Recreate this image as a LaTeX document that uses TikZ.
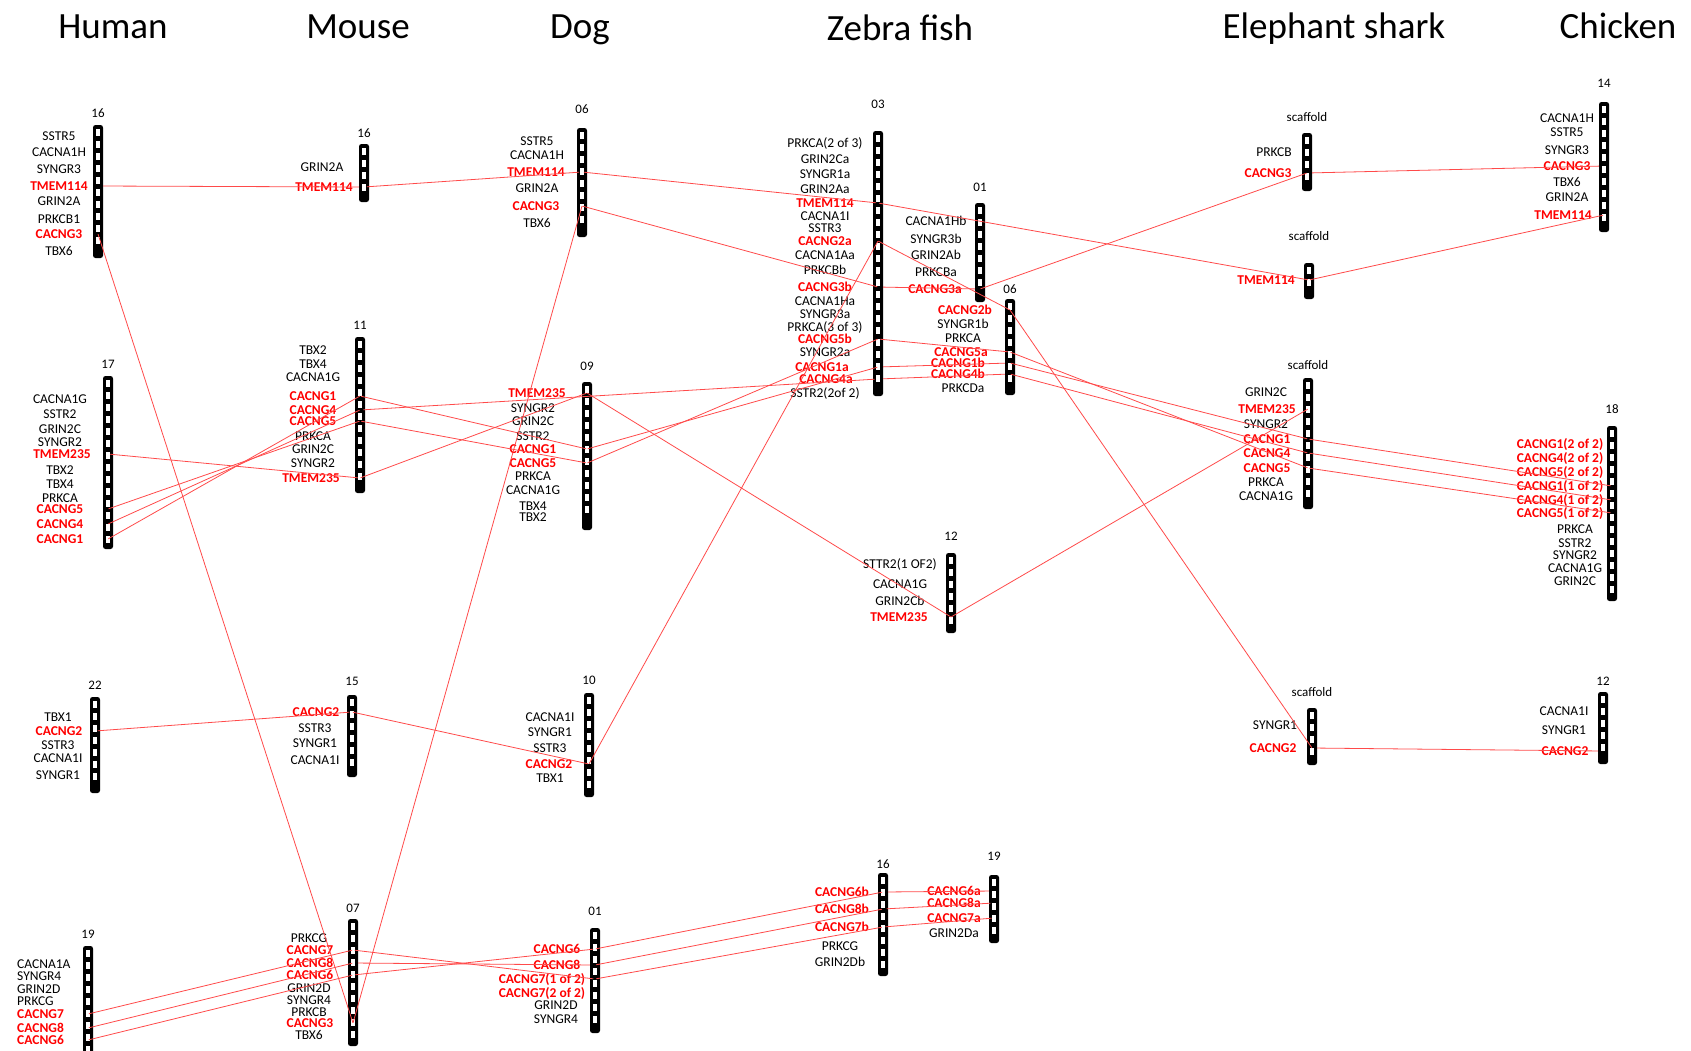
\documentclass[tikz,border=0pt]{standalone}
\usepackage{fontspec}
\setmainfont{Carlito}
\definecolor{HitRed}{HTML}{FF0000}
\definecolor{LinkRed}{HTML}{FF4A4A}

\tikzset{
  species/.style={font=\fontsize{37}{42}\selectfont, anchor=base},
  gene/.style={font=\fontsize{13.5}{15}\selectfont, inner sep=0pt, text height=9pt, text depth=0pt},
  hit/.style={gene, font=\fontsize{13.5}{15}\selectfont\bfseries, text=HitRed},
  chrnum/.style={font=\fontsize{13}{15}\selectfont, inner sep=0pt, text height=9pt, text depth=0pt},
  locus/.style={inner sep=0pt, minimum width=10pt, minimum height=0pt},
  link/.style={LinkRed, line width=0.8pt}
}

% chromosome bar: name, x, top, bottom, label y, label
\newcommand{\chromo}[6]{%
  \fill[rounded corners=2.5pt] (#2-5,#3) rectangle (#2+5,#4);
  \pgfmathtruncatemacro{\nwin}{(#4-#3-5)/12}
  \foreach \k in {1,...,\nwin}
    \fill[white] (#2-2,#3+12*\k-8.5) rectangle (#2+2,#3+12*\k-1.5);
  \node[chrnum] (#2) at (#2,#5) {#6};
}
% black gene labels: name, label x, list of y/text
\newcommand{\genelist}[4][]{%
  \foreach \y/\g [count=\i] in {#4}
    \node[gene,#1] (#2-\i) at (#3,\y) {\g};
}
% red gene: name, label x, bar x, y, text
\newcommand{\redgene}[6][]{%
  \node[hit,#1] (#2-t) at (#3,#5) {#6};
  \node[locus] (#2) at (#4,#5) {};
}

\begin{document}
\begin{tikzpicture}[x=1pt, y=-1pt]
  \useasboundingbox (0,0) rectangle (1691,1050);

  % --- SPECIES ---
  \node[species] (human)   at (113,38)  {Human};
  \node[species] (mouse)   at (358,38)  {Mouse};
  \node[species] (dog)     at (580,38)  {Dog};
  \node[species] (zebra)   at (900,40)  {Zebra fish};
  \node[species] (shark)   at (1334,38) {Elephant shark};
  \node[species] (chicken) at (1618,38) {Chicken};

  % --- HUMAN ---
  \chromo{hs16}{98}{125}{258}{113}{16}
  \genelist{hs16}{59}{136/SSTR5, 152/CACNA1H, 169/SYNGR3, 201/GRIN2A, 219/PRKCB1, 251/TBX6}
  \redgene{hs16-TMEM114}{59}{98}{186}{TMEM114}
  \redgene{hs16-CACNG3}{59}{98}{234}{CACNG3}

  \chromo{hs17}{108}{376}{549}{364}{17}
  \genelist{hs17}{60}{399/CACNA1G, 414/SSTR2, 429/GRIN2C, 442/SYNGR2, 470/TBX2, 484/TBX4, 498/PRKCA}
  \redgene{hs17-TMEM235}{62}{108}{454}{TMEM235}
  \redgene{hs17-CACNG5}{60}{108}{509}{CACNG5}
  \redgene{hs17-CACNG4}{60}{108}{524}{CACNG4}
  \redgene{hs17-CACNG1}{60}{108}{539}{CACNG1}

  \chromo{hs22}{95}{697}{793}{685}{22}
  \genelist{hs22}{58}{717/TBX1, 745/SSTR3, 758/CACNA1I, 775/SYNGR1}
  \redgene{hs22-CACNG2}{59}{95}{731}{CACNG2}

  \chromo{hs19}{88}{946}{1060}{934}{19}
  \genelist[anchor=west]{hs19}{17}{964/CACNA1A, 976/SYNGR4, 989/GRIN2D, 1001/PRKCG}
  \redgene[anchor=west]{hs19-CACNG7}{17}{88}{1014}{CACNG7}
  \redgene[anchor=west]{hs19-CACNG8}{17}{88}{1028}{CACNG8}
  \redgene[anchor=west]{hs19-CACNG6}{17}{88}{1040}{CACNG6}

  % --- MOUSE ---
  \chromo{mm16}{364}{144}{202}{133}{16}
  \genelist{mm16}{322}{167/GRIN2A}
  \redgene{mm16-TMEM114}{324}{364}{187}{TMEM114}

  \chromo{mm11}{360}{337}{493}{325}{11}
  \genelist{mm11}{313}{350/TBX2, 364/TBX4, 377/CACNA1G, 436/PRKCA, 449/GRIN2C, 463/SYNGR2}
  \redgene{mm11-CACNG1}{313}{360}{396}{CACNG1}
  \redgene{mm11-CACNG4}{313}{360}{410}{CACNG4}
  \redgene{mm11-CACNG5}{313}{360}{421}{CACNG5}
  \redgene{mm11-TMEM235}{311}{360}{478}{TMEM235}

  \chromo{mm15}{352}{695}{777}{681}{15}
  \genelist{mm15}{315}{728/SSTR3, 743/SYNGR1, 760/CACNA1I}
  \redgene{mm15-CACNG2}{316}{352}{712}{CACNG2}

  \chromo{mm07}{353}{919}{1046}{908}{07}
  \genelist{mm07}{309}{938/PRKCG, 988/GRIN2D, 1000/SYNGR4, 1012/PRKCB, 1035/TBX6}
  \redgene{mm07-CACNG7}{310}{353}{950}{CACNG7}
  \redgene{mm07-CACNG8}{310}{353}{963}{CACNG8}
  \redgene{mm07-CACNG6}{310}{353}{975}{CACNG6}
  \redgene{mm07-CACNG3}{310}{353}{1023}{CACNG3}

  % --- DOG ---
  \chromo{cf06}{582}{128}{237}{109}{06}
  \genelist{cf06}{537}{141/SSTR5, 155/CACNA1H, 188/GRIN2A, 223/TBX6}
  \redgene{cf06-TMEM114}{536}{582}{172}{TMEM114}
  \redgene{cf06-CACNG3}{536}{582}{206}{CACNG3}

  \chromo{cf09}{587}{382}{530}{366}{09}
  \genelist{cf09}{533}{408/SYNGR2, 421/GRIN2C, 436/SSTR2, 476/PRKCA, 490/CACNA1G, 506/TBX4, 517/TBX2}
  \redgene{cf09-TMEM235}{537}{587}{393}{TMEM235}
  \redgene{cf09-CACNG1}{533}{587}{449}{CACNG1}
  \redgene{cf09-CACNG5}{533}{587}{463}{CACNG5}

  \chromo{cf10}{589}{693}{797}{680}{10}
  \genelist{cf10}{550}{717/CACNA1I, 732/SYNGR1, 748/SSTR3, 778/TBX1}
  \redgene{cf10-CACNG2}{549}{589}{764}{CACNG2}

  \chromo{cf01}{595}{928}{1033}{911}{01}
  \genelist{cf01}{556}{1005/GRIN2D, 1019/SYNGR4}
  \redgene{cf01-CACNG6}{557}{595}{949}{CACNG6}
  \redgene{cf01-CACNG8}{557}{595}{965}{CACNG8}
  \redgene{cf01-CACNG7-1}{542}{595}{979}{CACNG7(1 of 2)}
  \redgene{cf01-CACNG7-2}{542}{595}{993}{CACNG7(2 of 2)}

  % --- ZEBRA FISH ---
  \chromo{dr03}{878}{131}{396}{104}{03}
  \genelist{dr03}{825}{143/PRKCA(2 of 3), 159/GRIN2Ca, 174/SYNGR1a, 189/GRIN2Aa, 216/CACNA1I, 228/SSTR3, 255/CACNA1Aa, 270/PRKCBb, 301/CACNA1Ha, 314/SYNGR3a, 327/PRKCA(3 of 3), 352/SYNGR2a, 393/SSTR2(2of 2)}
  \redgene{dr03-TMEM114}{825}{878}{203}{TMEM114}
  \redgene{dr03-CACNG2a}{825}{878}{241}{CACNG2a}
  \redgene{dr03-CACNG3b}{825}{878}{287}{CACNG3b}
  \redgene{dr03-CACNG5b}{825}{878}{339}{CACNG5b}
  \redgene{dr03-CACNG1a}{822}{878}{367}{CACNG1a}
  \redgene{dr03-CACNG4a}{826}{878}{379}{CACNG4a}

  \chromo{dr01}{980}{203}{302}{187}{01}
  \genelist{dr01}{936}{221/CACNA1Hb, 239/SYNGR3b, 255/GRIN2Ab, 272/PRKCBa}
  \redgene{dr01-CACNG3a}{935}{980}{289}{CACNG3a}

  \chromo{dr06}{1010}{299}{395}{289}{06}
  \genelist{dr06}{963}{324/SYNGR1b, 338/PRKCA, 388/PRKCDa}
  \redgene{dr06-CACNG2b}{965}{1010}{310}{CACNG2b}
  \redgene{dr06-CACNG5a}{961}{1010}{352}{CACNG5a}
  \redgene{dr06-CACNG1b}{958}{1010}{363}{CACNG1b}
  \redgene{dr06-CACNG4b}{958}{1010}{374}{CACNG4b}

  \chromo{dr12}{951}{553}{633}{536}{12}
  \genelist{dr12}{900}{564/STTR2(1 OF2), 584/CACNA1G, 601/GRIN2Cb}
  \redgene{dr12-TMEM235}{899}{951}{617}{TMEM235}

  \chromo{dr16}{883}{873}{976}{864}{16}
  \genelist{dr16}{840}{946/PRKCG, 962/GRIN2Db}
  \redgene{dr16-CACNG6b}{842}{883}{892}{CACNG6b}
  \redgene{dr16-CACNG8b}{842}{883}{909}{CACNG8b}
  \redgene{dr16-CACNG7b}{842}{883}{927}{CACNG7b}

  \chromo{dr19}{994}{875}{943}{856}{19}
  \genelist{dr19}{954}{933/GRIN2Da}
  \redgene{dr19-CACNG6a}{954}{994}{891}{CACNG6a}
  \redgene{dr19-CACNG8a}{954}{994}{903}{CACNG8a}
  \redgene{dr19-CACNG7a}{954}{994}{918}{CACNG7a}

  % --- ELEPHANT SHARK ---
  \chromo{cm1}{1307}{133}{191}{117}{scaffold}
  \genelist{cm1}{1274}{152/PRKCB}
  \redgene{cm1-CACNG3}{1268}{1307}{173}{CACNG3}

  \chromo{cm2}{1309}{263}{299}{236}{scaffold}
  \redgene{cm2-TMEM114}{1266}{1309}{280}{TMEM114}

  \chromo{cm3}{1308}{378}{509}{365}{scaffold}
  \genelist{cm3}{1266}{392/GRIN2C, 424/SYNGR2, 482/PRKCA, 496/CACNA1G}
  \redgene{cm3-TMEM235}{1267}{1308}{409}{TMEM235}
  \redgene{cm3-CACNG1}{1267}{1308}{439}{CACNG1}
  \redgene{cm3-CACNG4}{1267}{1308}{453}{CACNG4}
  \redgene{cm3-CACNG5}{1267}{1308}{468}{CACNG5}

  \chromo{cm4}{1312}{708}{765}{692}{scaffold}
  \genelist{cm4}{1275}{725/SYNGR1}
  \redgene{cm4-CACNG2}{1273}{1312}{748}{CACNG2}

  % --- CHICKEN ---
  \chromo{gg14}{1604}{102}{232}{83}{14}
  \genelist{gg14}{1567}{118/CACNA1H, 132/SSTR5, 150/SYNGR3, 182/TBX6, 197/GRIN2A}
  \redgene{gg14-CACNG3}{1567}{1604}{166}{CACNG3}
  \redgene{gg14-TMEM114}{1563}{1604}{215}{TMEM114}

  \chromo{gg18}{1612}{426}{601}{409}{18}
  \genelist{gg18}{1575}{529/PRKCA, 543/SSTR2, 555/SYNGR2, 568/CACNA1G, 581/GRIN2C}
  \redgene{gg18-CACNG1-2}{1560}{1612}{444}{CACNG1(2 of 2)}
  \redgene{gg18-CACNG4-2}{1560}{1612}{458}{CACNG4(2 of 2)}
  \redgene{gg18-CACNG5-2}{1560}{1612}{472}{CACNG5(2 of 2)}
  \redgene{gg18-CACNG1-1}{1560}{1612}{486}{CACNG1(1 of 2)}
  \redgene{gg18-CACNG4-1}{1560}{1612}{500}{CACNG4(1 of 2)}
  \redgene{gg18-CACNG5-1}{1560}{1612}{513}{CACNG5(1 of 2)}

  \chromo{gg12}{1603}{692}{764}{681}{12}
  \genelist{gg12}{1564}{711/CACNA1I, 730/SYNGR1}
  \redgene{gg12-CACNG2}{1565}{1603}{751}{CACNG2}

  % --- SYNTENY LINKS ---
  \draw[link] (hs16-TMEM114) -- (mm16-TMEM114) -- (cf06-TMEM114) -- (dr03-TMEM114) -- (cm2-TMEM114) -- (gg14-TMEM114);
  \draw[link] (hs16-CACNG3) -- (mm07-CACNG3) -- (cf06-CACNG3) -- (dr03-CACNG3b) -- (dr01-CACNG3a) -- (cm1-CACNG3) -- (gg14-CACNG3);
  \draw[link] (hs22-CACNG2) -- (mm15-CACNG2) -- (cf10-CACNG2) -- (dr03-CACNG2a) -- (dr06-CACNG2b) -- (cm4-CACNG2) -- (gg12-CACNG2);
  \draw[link] (hs17-TMEM235) -- (mm11-TMEM235) -- (cf09-TMEM235) -- (dr12-TMEM235) -- (cm3-TMEM235);
  \draw[link] (hs17-CACNG1) -- (mm11-CACNG1) -- (cf09-CACNG1) -- (dr03-CACNG1a) -- (dr06-CACNG1b) -- (cm3-CACNG1) -- (gg18-CACNG1-1);
  \draw[link] (hs17-CACNG4) -- (mm11-CACNG4) -- (dr03-CACNG4a) -- (dr06-CACNG4b) -- (cm3-CACNG4) -- (gg18-CACNG4-1);
  \draw[link] (hs17-CACNG5) -- (mm11-CACNG5) -- (cf09-CACNG5) -- (dr03-CACNG5b) -- (dr06-CACNG5a) -- (cm3-CACNG5) -- (gg18-CACNG5-1);
  \draw[link] (hs19-CACNG7) -- (mm07-CACNG7) -- (cf01-CACNG7-1) -- (dr16-CACNG7b) -- (dr19-CACNG7a);
  \draw[link] (hs19-CACNG8) -- (mm07-CACNG8) -- (cf01-CACNG8) -- (dr16-CACNG8b) -- (dr19-CACNG8a);
  \draw[link] (hs19-CACNG6) -- (mm07-CACNG6) -- (cf01-CACNG6) -- (dr16-CACNG6b) -- (dr19-CACNG6a);
\end{tikzpicture}
\end{document}
